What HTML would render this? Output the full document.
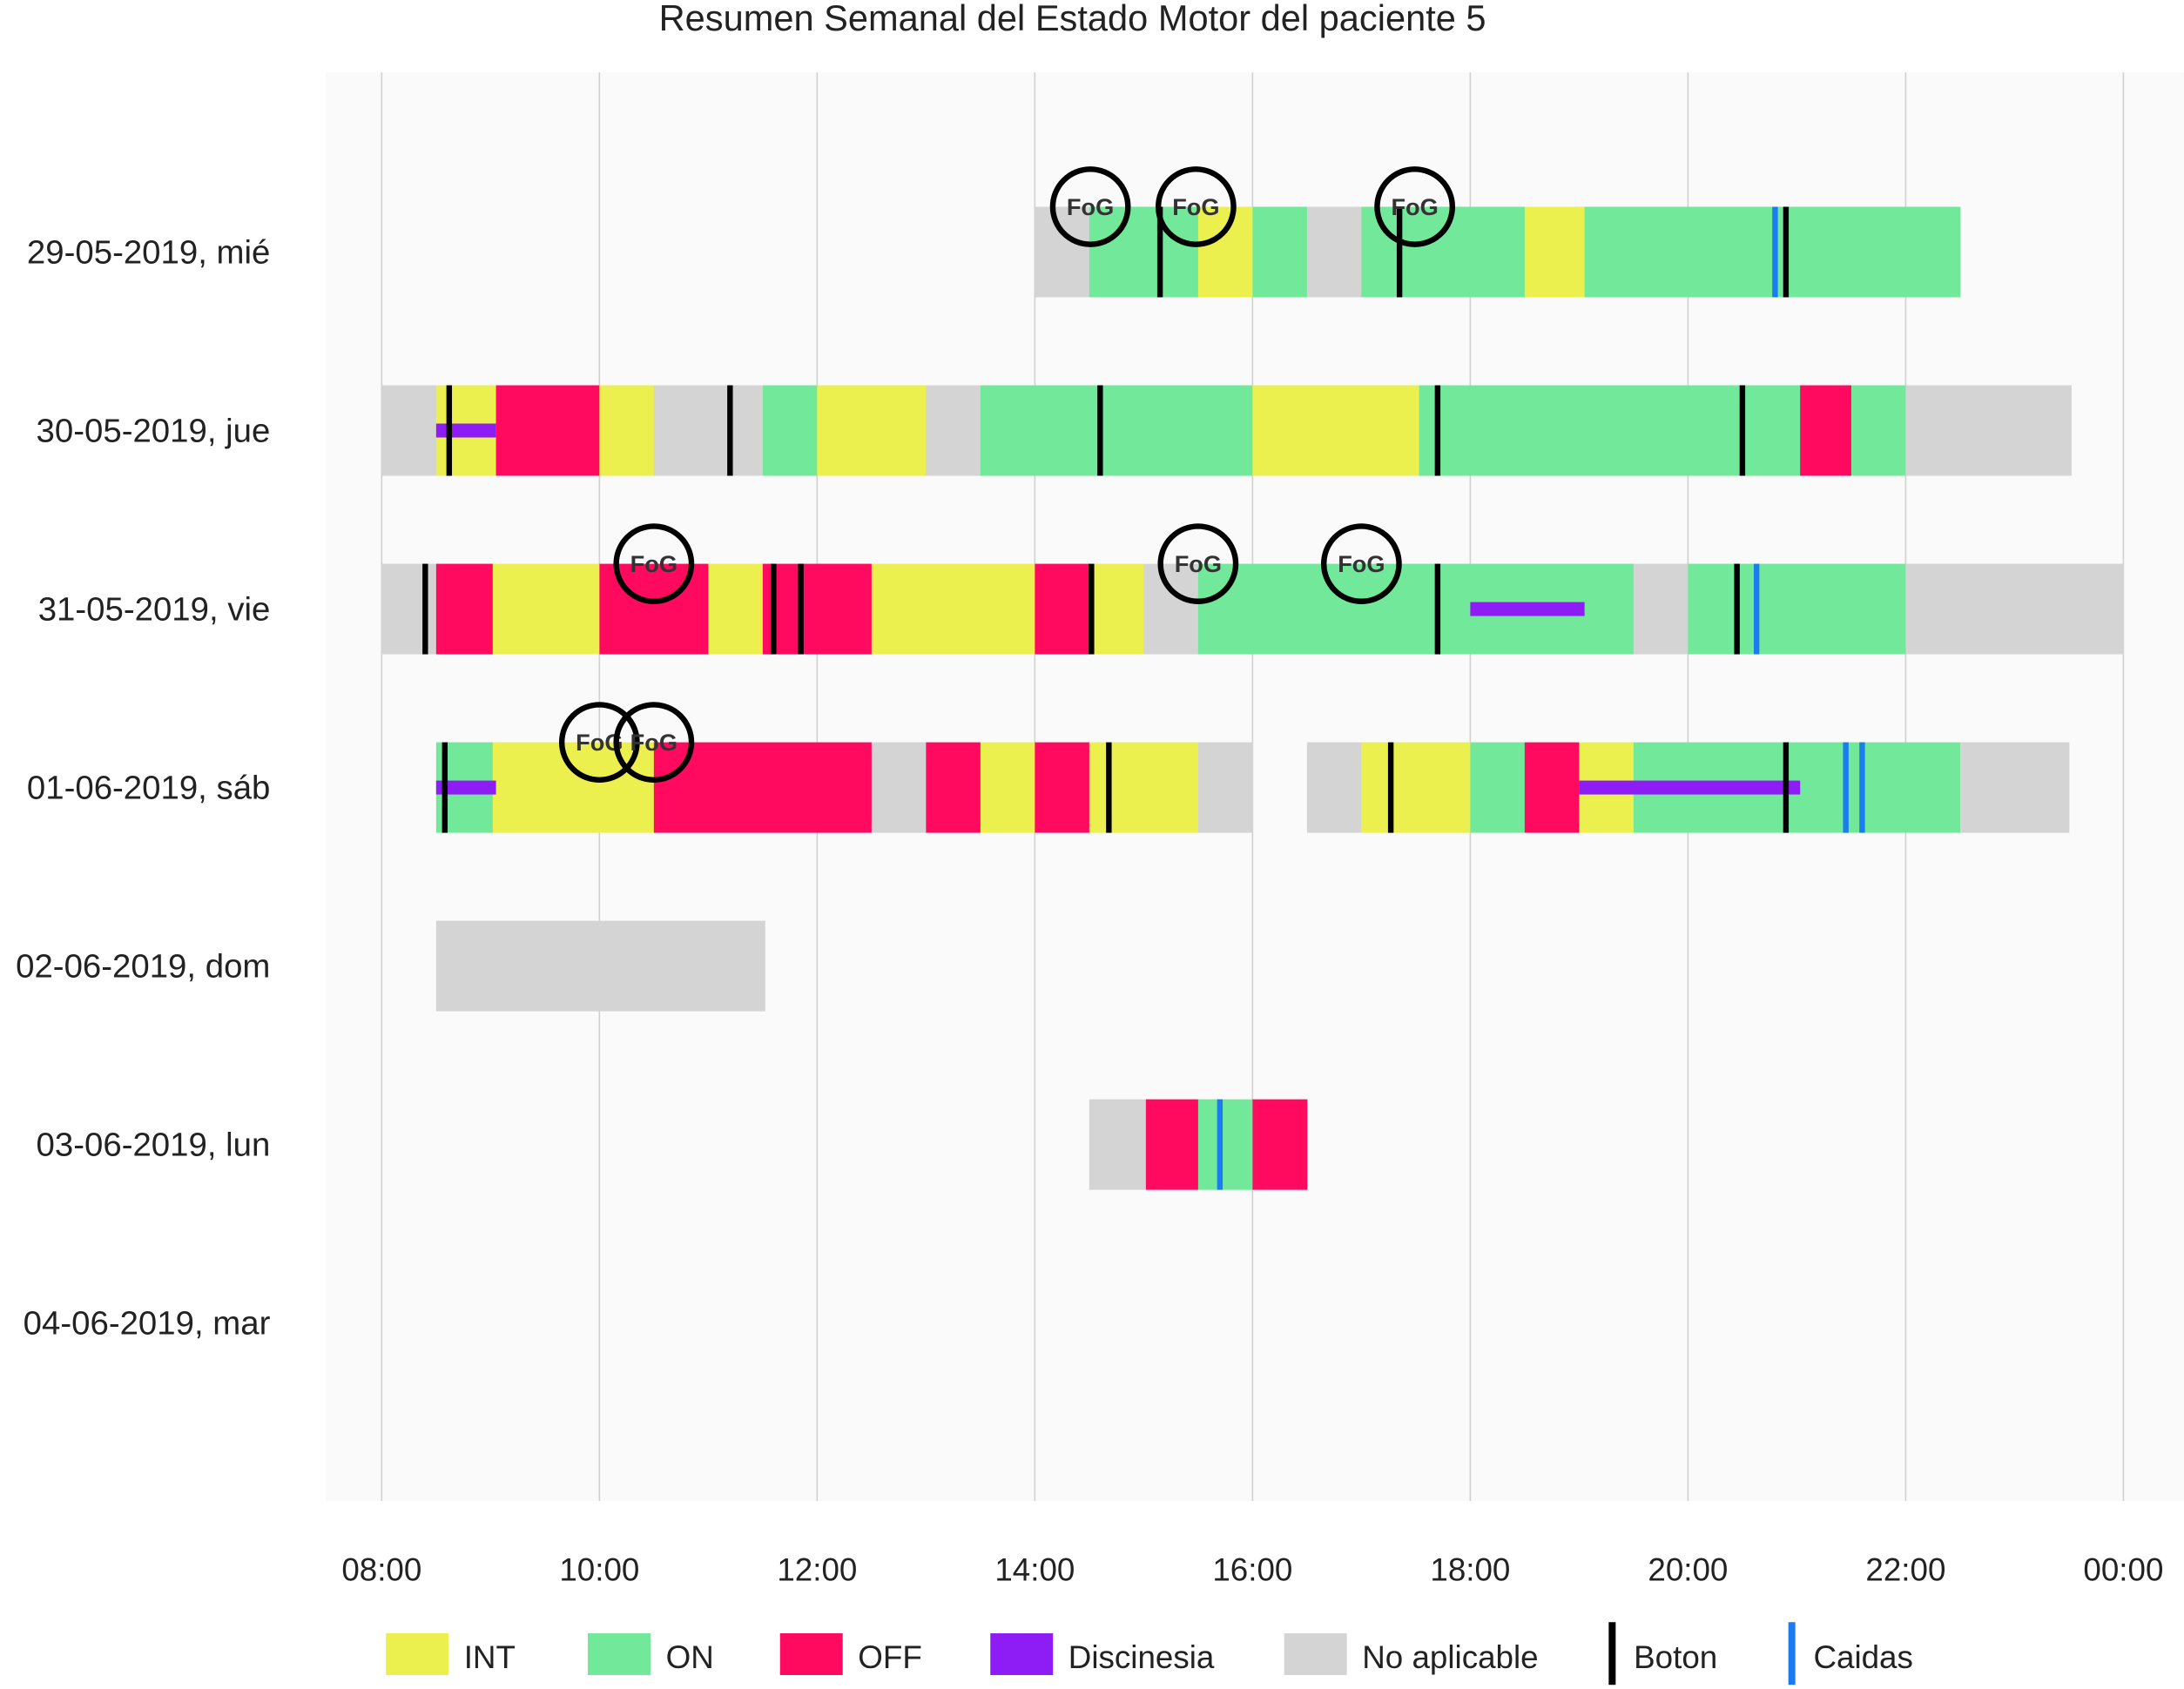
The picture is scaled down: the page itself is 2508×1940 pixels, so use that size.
<!DOCTYPE html>
<html><head><meta charset="utf-8"><style>
html,body{margin:0;padding:0;background:#fff;}
svg{display:block;font-family:"Liberation Sans",sans-serif;}
</style></head><body>
<svg id="chart" width="2508" height="1940" viewBox="0 0 1568 1213" xmlns="http://www.w3.org/2000/svg">
<text x="770" y="22" text-anchor="middle" font-size="26" fill="#222">Resumen Semanal del Estado Motor del paciente 5</text>
<rect x="234" y="52" width="1334" height="1026" fill="#fafafa"/>
<g id="grid"></g><g id="bars"></g><g id="marks"></g><g id="labels"></g><g id="legend"></g>
</svg>
<script>
const days = ["29-05-2019, mié","30-05-2019, jue","31-05-2019, vie","01-06-2019, sáb","02-06-2019, dom","03-06-2019, lun","04-06-2019, mar"];
const tickLabels = ["08:00","10:00","12:00","14:00","16:00","18:00","20:00","22:00","00:00"];
const tickHours = [8,10,12,14,16,18,20,22,24];
// segments: [dayIndex, start, end, state]
const segments = [
[0,14,14.5,"NA"],[0,14.5,15.5,"ON"],[0,15.5,16,"INT"],[0,16,16.5,"ON"],[0,16.5,17,"NA"],[0,17,18.5,"ON"],[0,18.5,19.05,"INT"],[0,19.05,22.5,"ON"],
[1,8,8.5,"NA"],[1,8.5,9.05,"INT"],[1,9.05,10,"OFF"],[1,10,10.5,"INT"],[1,10.5,11.5,"NA"],[1,11.5,12,"ON"],[1,12,13,"INT"],[1,13,13.5,"NA"],[1,13.5,16,"ON"],[1,16,17.53,"INT"],[1,17.53,21.03,"ON"],[1,21.03,21.5,"OFF"],[1,21.5,22,"ON"],[1,22,23.52,"NA"],
[2,8,8.5,"NA"],[2,8.5,9.02,"OFF"],[2,9.02,10,"INT"],[2,10,11,"OFF"],[2,11,11.5,"INT"],[2,11.5,12.5,"OFF"],[2,12.5,14,"INT"],[2,14,14.5,"OFF"],[2,14.5,15,"INT"],[2,15,15.5,"NA"],[2,15.5,19.5,"ON"],[2,19.5,20,"NA"],[2,20,22,"ON"],[2,22,24,"NA"],
[3,8.5,9.02,"ON"],[3,9.02,10.5,"INT"],[3,10.5,12.5,"OFF"],[3,12.5,13,"NA"],[3,13,13.5,"OFF"],[3,13.5,14,"INT"],[3,14,14.5,"OFF"],[3,14.5,15.5,"INT"],[3,15.5,16,"NA"],[3,16.5,17,"NA"],[3,17,18,"INT"],[3,18,18.5,"ON"],[3,18.5,19,"OFF"],[3,19,19.5,"INT"],[3,19.5,22.5,"ON"],[3,22.5,23.5,"NA"],
[4,8.5,11.52,"NA"],
[5,14.5,15.02,"NA"],[5,15.02,15.5,"OFF"],[5,15.5,16,"ON"],[5,16,16.5,"OFF"]
];
const dyskinesia = [[1,8.5,9.05],[2,18,19.05],[3,8.5,9.05],[3,19,21.03]];
const botones = [[0,15.15],[0,17.35],[0,20.9],[1,8.62],[1,11.2],[1,14.6],[1,17.7],[1,20.5],[2,8.4],[2,11.6],[2,11.85],[2,14.52],[2,17.7],[2,20.45],[3,8.58],[3,14.68],[3,17.27],[3,20.9]];
const caidas = [[0,20.8],[2,20.63],[3,21.45],[3,21.6],[5,15.7]];
const fogs = [[0,14.51],[0,15.48],[0,17.49],[2,10.5],[2,15.5],[2,17.0],[3,10.0],[3,10.5]];

const colors = {INT:"#ebf04f",ON:"#72e89a",OFF:"#ff0a5f",NA:"#d4d4d4",DIS:"#8e1cf5"};
const NS="http://www.w3.org/2000/svg";
const x = h => 274 + (h-8)*78.16;
const yc = d => 181 + d*128.2;
const H = 65;
function mk(parent,tag,attrs){const e=document.createElementNS(NS,tag);for(const k in attrs)e.setAttribute(k,attrs[k]);document.getElementById(parent).appendChild(e);return e;}

tickHours.forEach((h,i)=>{
  const l=mk("grid","line",{x1:x(h),x2:x(h),y1:52,y2:1078,stroke:"#d0d0d0","stroke-width":1});
  
  
  const t=mk("labels","text",{x:x(h),y:1135,"text-anchor":"middle","font-size":23,fill:"#222"});
  t.textContent=tickLabels[i];
  
  
});
days.forEach((d,i)=>{
  const t=mk("labels","text",{x:194,y:yc(i)+8,"text-anchor":"end","font-size":24,fill:"#222"});
  t.textContent=d;
  
  
});
segments.forEach(s=>{
  const r=mk("bars","rect",{x:x(s[1]),y:yc(s[0])-H/2,width:x(s[2])-x(s[1])+0.3,height:H,fill:colors[s[3]]});
  
  
});
dyskinesia.forEach(s=>{
  const r=mk("marks","rect",{x:x(s[1]),y:yc(s[0])-5,width:x(s[2])-x(s[1]),height:10,fill:colors.DIS});
  
  
});
botones.forEach(b=>{
  const r=mk("marks","rect",{x:x(b[1])-2,y:yc(b[0])-H/2,width:4,height:H,fill:"#000"});
  
  
});
caidas.forEach(b=>{
  const r=mk("marks","rect",{x:x(b[1])-2,y:yc(b[0])-H/2,width:4,height:H,fill:"#1a7cf0"});
  
  
});
fogs.forEach(f=>{
  const cx=x(f[1]), cy=yc(f[0])-H/2;
  const c=mk("marks","circle",{cx:cx,cy:cy,r:27,fill:"none",stroke:"#000","stroke-width":4});
  
  
  const t=mk("marks","text",{x:cx,y:cy+6,"text-anchor":"middle","font-size":17,"font-weight":"bold",fill:"#333"});
  t.textContent="FoG";
  
  
});
const legend=[["INT","INT",277],["ON","ON",422],["OFF","OFF",560],["Discinesia","DIS",711],["No aplicable","NA",922]];
legend.forEach(l=>{
  const r=mk("legend","rect",{x:l[2],y:1173,width:45,height:30,fill:colors[l[1]]});
  
  
  const t=mk("legend","text",{x:l[2]+56,y:1198,"font-size":23,fill:"#222"});
  t.textContent=l[0];
  
  
});
[["Boton","#000",1155],["Caidas","#1a7cf0",1284]].forEach(l=>{
  const r=mk("legend","rect",{x:l[2],y:1165,width:5,height:45,fill:l[1]});
  
  
  const t=mk("legend","text",{x:l[2]+18,y:1198,"font-size":23,fill:"#222"});
  t.textContent=l[0];
  
  
});
</script>
</body></html>
